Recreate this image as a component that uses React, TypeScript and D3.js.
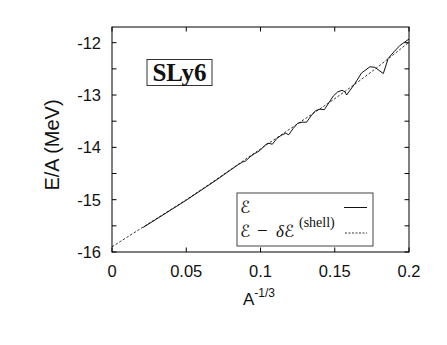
import * as d3 from 'd3';

// E/A of SLy6 versus A^(-1/3)
const smoothX = [0, 0.025, 0.05, 0.075, 0.1, 0.125, 0.15, 0.175, 0.2];
const smoothY = [-15.9, -15.45, -15.0, -14.52, -14.03, -13.55, -13.07, -12.55, -11.99];

const fullX = [
  0.021, 0.03, 0.04, 0.05, 0.06, 0.07, 0.08, 0.085, 0.088, 0.09, 0.093, 0.096, 0.098, 0.1,
  0.103, 0.105, 0.108, 0.111, 0.114, 0.117, 0.119, 0.122, 0.125, 0.128, 0.131, 0.134, 0.137,
  0.14, 0.143, 0.146, 0.149, 0.152, 0.155, 0.157, 0.158, 0.1636, 0.168, 0.1737, 0.177, 0.1827,
  0.186, 0.19, 0.194, 0.2,
];
const fullY = [
  -15.53, -15.37, -15.19, -15.01, -14.82, -14.63, -14.43, -14.33, -14.28, -14.26, -14.18, -14.12,
  -14.09, -14.05, -13.96, -13.92, -13.94, -13.83, -13.77, -13.73, -13.76, -13.64, -13.54, -13.52,
  -13.52, -13.4, -13.3, -13.27, -13.28, -13.15, -13.02, -12.94, -12.91, -12.94, -13.0, -12.78,
  -12.58, -12.46, -12.47, -12.59, -12.3, -12.17, -12.05, -11.93,
];

const xTicks = [0, 0.05, 0.1, 0.15, 0.2];
const xTickLabels = ['0', '0.05', '0.1', '0.15', '0.2'];
const yTicks = [-16, -15.5, -15, -14.5, -14, -13.5, -13, -12.5, -12];
const yTickLabels = ['-16', '-15', '-14', '-13', '-12'];

const W = 447;
const H = 345;
const left = 112;
const right = 409;
const top = 27;
const bottom = 252;

export default function App() {
  const x = d3.scaleLinear().domain([0, 0.2]).range([left, right]);
  const y = d3.scaleLinear().domain([-16, -11.7]).range([bottom, top]);

  const line = d3
    .line<[number, number]>()
    .x((d) => x(d[0]))
    .y((d) => y(d[1]));

  const smooth = smoothX.map((v, i) => [v, smoothY[i]] as [number, number]);
  const full = fullX.map((v, i) => [v, fullY[i]] as [number, number]);
  const smoothPath = d3.line<[number, number]>().x((d) => x(d[0])).y((d) => y(d[1])).curve(d3.curveMonotoneX)(smooth) || '';

  const tickLen = 4.5;
  const sans = '"Liberation Sans", Arial, sans-serif';
  const serif = '"Liberation Serif", "DejaVu Serif", serif';
  const script = '"DejaVu Sans", "DejaVu Serif", serif';

  return (
    <svg width={W} height={H} style={{ position: 'absolute', left: 0, top: 0, background: '#fff' }}>
      {/* curves */}
      <path d={smoothPath} fill="none" stroke="#222" strokeWidth={0.9} strokeDasharray="2.5,1.8" />
      <path d={line(full) || ''} fill="none" stroke="#111" strokeWidth={1} />

      {/* frame */}
      <rect x={left} y={top} width={right - left} height={bottom - top} fill="none" stroke="#000" strokeWidth={1} />

      {/* y ticks */}
      {yTicks.map((t) => (
        <g key={'y' + t}>
          <line x1={left} x2={left + tickLen} y1={y(t)} y2={y(t)} stroke="#000" />
          <line x1={right} x2={right - tickLen} y1={y(t)} y2={y(t)} stroke="#000" />
        </g>
      ))}
      {yTickLabels.map((l) => (
        <text key={'yl' + l} x={101} y={y(+l) + 6} textAnchor="end" fontFamily={sans} fontSize={16.5} fill="#111">
          {l}
        </text>
      ))}

      {/* x ticks */}
      {xTicks.map((t, i) => (
        <g key={'x' + t}>
          <line x1={x(t)} x2={x(t)} y1={bottom} y2={bottom - tickLen} stroke="#000" />
          <line x1={x(t)} x2={x(t)} y1={top} y2={top + tickLen} stroke="#000" />
          <text x={x(t)} y={277} textAnchor="middle" fontFamily={sans} fontSize={16.5} fill="#111">
            {xTickLabels[i]}
          </text>
        </g>
      ))}

      {/* axis titles */}
      <text x={243} y={305} fontFamily={sans} fontSize={17} fill="#111">
        A<tspan dy={-8} fontSize={12}>-1/3</tspan>
      </text>
      <text
        transform={`translate(58.5,145) rotate(-90)`}
        textAnchor="middle"
        fontFamily={sans}
        fontSize={20}
        fill="#111"
      >
        E/A (MeV)
      </text>

      {/* label box */}
      <rect x={147} y={59.5} width={65} height={26} fill="#fff" stroke="#333" strokeWidth={1} />
      <text x={179.5} y={80.5} textAnchor="middle" fontFamily={serif} fontWeight="bold" fontSize={25} fill="#111">
        SLy6
      </text>

      {/* legend */}
      <rect x={237} y={193} width={136} height={53} fill="#fff" stroke="#444" strokeWidth={1} />
      <text x={240} y={213} fontFamily={script} fontSize={17} fill="#111">
        ℰ
      </text>
      <line x1={344} x2={367} y1={207.5} y2={207.5} stroke="#111" strokeWidth={1} />
      <text y={237} fontFamily={serif} fontSize={17} fill="#111">
        <tspan x={240} fontFamily={script}>ℰ</tspan>
        <tspan x={257} fontSize={19}>−</tspan>
        <tspan x={276} fontStyle="italic">δ</tspan>
        <tspan x={284} fontFamily={script}>ℰ</tspan>
        <tspan x={299} y={227} fontSize={14}>(shell)</tspan>
      </text>
      <line x1={345} x2={367} y1={233} y2={233} stroke="#222" strokeWidth={0.9} strokeDasharray="2,1.5" />
    </svg>
  );
}
